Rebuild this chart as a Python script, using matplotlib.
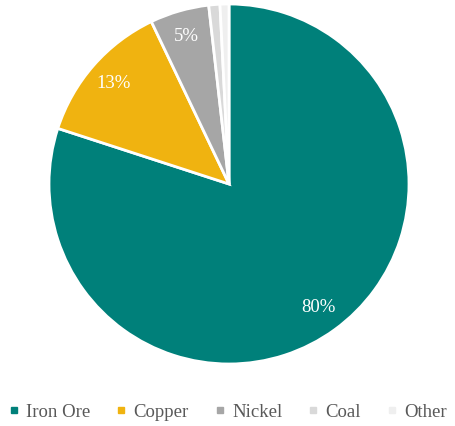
import matplotlib.pyplot as plt
from matplotlib.lines import Line2D

# data
labels = ['Iron Ore', 'Copper', 'Nickel', 'Coal', 'Other']
shares = [80.0, 12.9, 5.3, 1.0, 0.8]
pct_text = ['80%', '13%', '5%', '', '']
colors = ['#00807a', '#f0b310', '#a6a6a6', '#d9d9d9', '#efefef']

plt.rcParams['font.family'] = ['Liberation Serif', 'DejaVu Serif']

fig = plt.figure(figsize=(4.56, 4.26), dpi=100)
ax = fig.add_axes([49/456, 62/426, 360/456, 360/426])

wedges, texts = ax.pie(shares, colors=colors, startangle=90, counterclock=False,
                       labels=pct_text, labeldistance=0.85,
                       wedgeprops=dict(edgecolor='white', linewidth=2),
                       textprops=dict(color='white', fontsize=13.5))
for t in texts:
    t.set_ha('center')
    t.set_va('center')
ax.set_xlim(-1, 1)
ax.set_ylim(-1, 1)
ax.set_aspect('equal')
ax.axis('off')

handles = [Line2D([], [], marker='s', linestyle='', markersize=5,
                  markerfacecolor=c, markeredgecolor=c) for c in colors]
fig.legend(handles, labels, loc='center', bbox_to_anchor=(0.5, 1 - 412/426),
           ncol=5, frameon=False, fontsize=13.5, handlelength=0.5,
           handletextpad=0.4, columnspacing=1.4, labelcolor='#595959')

fig.savefig('out.png', dpi=100)
